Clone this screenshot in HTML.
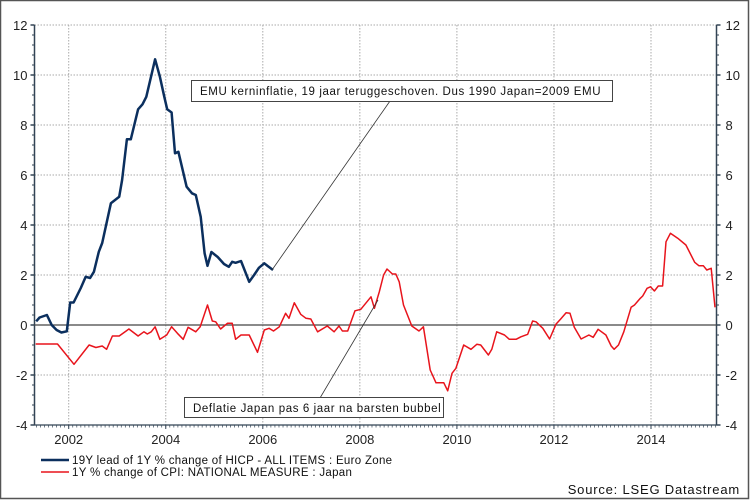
<!DOCTYPE html>
<html><head><meta charset="utf-8"><style>
body{margin:0;background:#fff;}
svg{display:block;font-family:"Liberation Sans",sans-serif;}
</style></head><body>
<svg id="chart" width="750" height="500" viewBox="0 0 750 500">
<rect x="0.5" y="0.5" width="748" height="498" fill="#fff" stroke="#555" stroke-width="1.5"/>
<g id="grid"></g>
<g id="axes"></g>
<g id="series"></g>
<g>
<line x1="390" y1="101" x2="272" y2="270" stroke="#333" stroke-width="0.8"/>
<rect x="191.5" y="80.5" width="421" height="21" fill="#fff" stroke="#444" stroke-width="1"/>
<text x="200" y="95" font-size="11.5" letter-spacing="0.6" fill="#111">EMU kerninflatie, 19 jaar teruggeschoven. Dus 1990 Japan=2009 EMU</text>
</g>
<g>
<line x1="320" y1="398" x2="378" y2="300" stroke="#333" stroke-width="0.8"/>
<rect x="184.5" y="397.5" width="259" height="20" fill="#fff" stroke="#444" stroke-width="1"/>
<text x="193" y="412" font-size="11.5" letter-spacing="0.6" fill="#111">Deflatie Japan pas 6 jaar na barsten bubbel</text>
</g>
<g>
<line x1="41" y1="460" x2="69" y2="460" stroke="#0b2f5e" stroke-width="2.5"/>
<text x="72" y="464" font-size="11.5" letter-spacing="0.3" fill="#111">19Y lead of 1Y % change of HICP - ALL ITEMS : Euro Zone</text>
<line x1="41" y1="472" x2="69" y2="472" stroke="#e8141c" stroke-width="1.5"/>
<text x="72" y="476" font-size="11.5" letter-spacing="0.3" fill="#111">1Y % change of CPI: NATIONAL MEASURE : Japan</text>
</g>
<text x="740" y="494" font-size="13" letter-spacing="0.8" text-anchor="end" fill="#111">Source: LSEG Datastream</text>
</svg>
<script>
const yTicks=[-4,-2,0,2,4,6,8,10,12];
const xTicks=[2002,2004,2006,2008,2010,2012,2014];
const emuYears=[2001.33,2001.4,2001.55,2001.65,2001.75,2001.85,2001.96,2002.03,2002.1,2002.25,2002.35,2002.44,2002.52,2002.62,2002.69,2002.87,2003.04,2003.1,2003.2,2003.28,2003.43,2003.52,2003.6,2003.78,2003.88,2003.97,2004.03,2004.12,2004.19,2004.26,2004.43,2004.54,2004.62,2004.72,2004.8,2004.86,2004.94,2005.07,2005.2,2005.3,2005.37,2005.44,2005.55,2005.72,2005.82,2005.92,2006.03,2006.1,2006.21];
const emuValues=[0.15,0.3,0.4,0,-0.2,-0.3,-0.25,0.9,0.9,1.48,1.93,1.88,2.13,2.93,3.28,4.87,5.13,5.8,7.43,7.43,8.63,8.83,9.13,10.63,9.93,9.13,8.63,8.5,6.87,6.93,5.53,5.27,5.2,4.33,2.87,2.37,2.92,2.72,2.44,2.33,2.53,2.49,2.56,1.73,2.0,2.29,2.47,2.36,2.2];
const jpYears=[2001.32,2001.77,2002.11,2002.42,2002.56,2002.69,2002.78,2002.9,2003.04,2003.24,2003.43,2003.55,2003.62,2003.7,2003.78,2003.88,2004.02,2004.12,2004.24,2004.36,2004.46,2004.62,2004.71,2004.86,2004.96,2005.03,2005.13,2005.27,2005.37,2005.44,2005.55,2005.72,2005.89,2006.03,2006.13,2006.22,2006.34,2006.47,2006.54,2006.65,2006.78,2006.89,2006.99,2007.13,2007.33,2007.47,2007.57,2007.64,2007.75,2007.9,2008.02,2008.23,2008.3,2008.4,2008.49,2008.56,2008.67,2008.74,2008.81,2008.9,2009.07,2009.22,2009.31,2009.45,2009.57,2009.73,2009.81,2009.9,2009.98,2010.14,2010.29,2010.41,2010.49,2010.65,2010.72,2010.82,2010.98,2011.08,2011.22,2011.32,2011.46,2011.56,2011.63,2011.77,2011.91,2012.04,2012.14,2012.25,2012.33,2012.42,2012.56,2012.72,2012.81,2012.91,2013.07,2013.18,2013.24,2013.33,2013.44,2013.59,2013.66,2013.78,2013.83,2013.92,2013.99,2014.07,2014.15,2014.24,2014.31,2014.4,2014.55,2014.72,2014.9,2014.99,2015.08,2015.15,2015.24,2015.32];
const jpValues=[-0.76,-0.76,-1.57,-0.8,-0.9,-0.84,-0.97,-0.44,-0.44,-0.16,-0.44,-0.27,-0.36,-0.27,-0.07,-0.57,-0.4,-0.07,-0.33,-0.57,-0.09,-0.27,-0.07,0.8,0.16,0.13,-0.16,0.07,0.07,-0.57,-0.4,-0.4,-1.09,-0.2,-0.13,-0.24,-0.07,0.47,0.27,0.89,0.43,0.27,0.24,-0.27,-0.04,-0.27,-0.04,-0.24,-0.24,0.57,0.63,1.13,0.67,1.33,2.0,2.24,2.04,2.04,1.73,0.8,-0.04,-0.24,-0.07,-1.8,-2.31,-2.31,-2.63,-1.93,-1.73,-0.8,-0.97,-0.77,-0.8,-1.2,-0.97,-0.27,-0.4,-0.57,-0.57,-0.47,-0.37,0.16,0.13,-0.13,-0.56,0.03,0.24,0.49,0.47,-0.09,-0.56,-0.4,-0.49,-0.17,-0.4,-0.84,-0.97,-0.8,-0.27,0.71,0.8,1.07,1.16,1.47,1.53,1.36,1.56,1.56,3.33,3.67,3.47,3.2,2.51,2.37,2.37,2.2,2.27,0.71];

const L=34.5,R=716.5,T=25,B=425,yMin=-4,yMax=12,xMin=2001.295,xMax=2015.35;
function xs(v){return L+(v-xMin)/(xMax-xMin)*(R-L);}
function ys(v){return B-(v-yMin)/(yMax-yMin)*(B-T);}
const NS='http://www.w3.org/2000/svg';
function mk(tag,attrs,parent){const e=document.createElementNS(NS,tag);for(const k in attrs)e.setAttribute(k,attrs[k]);parent.appendChild(e);return e;}
const grid=document.getElementById('grid'),axes=document.getElementById('axes'),series=document.getElementById('series');
yTicks.forEach(t=>{
  const y=ys(t);
  if(t!==yMin&&t!==0){const g=mk('line',{x1:L,x2:R,y1:y,y2:y,stroke:'#aaa','stroke-dasharray':'1.5 1.5','stroke-width':1},grid);
  
  }
  const a=mk('text',{x:L-7,y:y+5,'text-anchor':'end','font-size':13,fill:'#222'},axes);a.textContent=t;
  
  
  const b=mk('text',{x:R+9,y:y+5,'font-size':13,fill:'#222'},axes);b.textContent=t;
  
  
  mk('line',{x1:L-4,x2:L,y1:y,y2:y,stroke:'#345',"stroke-width":1.5},axes);
  mk('line',{x1:R,x2:R+4,y1:y,y2:y,stroke:'#345',"stroke-width":1.5},axes);
});
for(let v=yMin;v<=yMax;v+=0.4){const y=ys(v);mk('line',{x1:L-2.5,x2:L,y1:y,y2:y,stroke:'#345'},axes);mk('line',{x1:R,x2:R+2.5,y1:y,y2:y,stroke:'#345'},axes);}
xTicks.forEach(t=>{
  const x=xs(t);
  const g=mk('line',{x1:x,x2:x,y1:T,y2:B,stroke:'#aaa','stroke-dasharray':'1.5 1.5'},grid);
  
  
  const a=mk('text',{x:x,y:B+19,'text-anchor':'middle','font-size':13,fill:'#222'},axes);a.textContent=t;
  
  
  mk('line',{x1:x,x2:x,y1:B,y2:B+4,stroke:'#345'},axes);
});
for(let m=Math.ceil(xMin*12);m<=xMax*12;m++){const x=xs(m/12);mk('line',{x1:x,x2:x,y1:B,y2:B+2.5,stroke:'#345','stroke-width':0.7},axes);}
mk('line',{x1:L,x2:L,y1:T,y2:B,stroke:'#345','stroke-width':1.5},axes);
mk('line',{x1:R,x2:R,y1:T,y2:B,stroke:'#345','stroke-width':1.5},axes);
mk('line',{x1:L,x2:R,y1:B,y2:B,stroke:'#345','stroke-width':1.2},axes);
const z=mk('line',{x1:L,x2:R,y1:ys(0),y2:ys(0),stroke:'#444','stroke-width':1.2},axes);


function path(xa,va){return xa.map((x,i)=>(i?'L':'M')+xs(x).toFixed(1)+' '+ys(va[i]).toFixed(1)).join(' ');}
const pj=mk('path',{d:path(jpYears,jpValues),fill:'none',stroke:'#e8141c','stroke-width':1.5,'stroke-linejoin':'round'},series);


const pe=mk('path',{d:path(emuYears,emuValues),fill:'none',stroke:'#0b2f5e','stroke-width':2.5,'stroke-linejoin':'round'},series);


</script>
</body></html>
